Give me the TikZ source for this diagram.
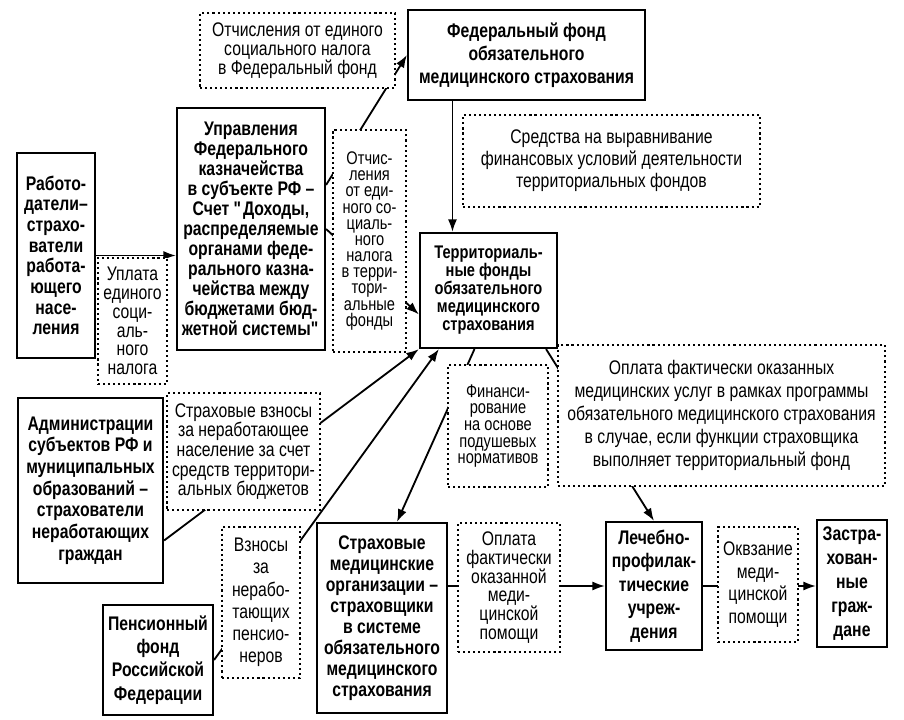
\documentclass[tikz,border=0pt]{standalone}
\usepackage{fontspec}
\setmainfont{Liberation Sans}[FakeStretch=0.8]
\usetikzlibrary{positioning,arrows.meta}

\tikzset{
  box/.style={draw, line width=1.5pt, align=center, inner sep=1pt,
              font=\bfseries\fontsize{14}{#1}\selectfont},
  box/.default=15pt,
  note/.style={draw, fill=white, line width=1.5pt, dash pattern=on 1.5pt off 2.1pt,
               align=center, inner sep=1pt, font=\fontsize{14}{#1}\selectfont},
  note/.default=14pt,
  flow/.style={line width=1.3pt, -{Latex[length=9pt,width=6.5pt]}}
}

\begin{document}
\begin{tikzpicture}[x=0.025cm, y=-0.025cm]
  \useasboundingbox (0,0) rectangle (904,720);

  % main boxes
  \node[box=16.5pt, minimum width=5.925cm, minimum height=2.25cm] (fed)   at (526.5,55)  {Федеральный фонд\\обязательного\\медицинского страхования};
  \node[box=14.7pt, minimum width=1.95cm,  minimum height=5.125cm] (emp)  at (56,255.5)  {Работо-\\датели–\\страхо-\\ватели\\работа-\\ющего\\насе-\\ления};
  \node[box=14.2pt, minimum width=3.7cm,   minimum height=6.05cm] (treas) at (251,229)   {Управления\\Федерального\\казначейства\\в субъекте РФ –\\Счет \textquotedbl{}Доходы,\\распределяемые\\органами феде-\\рального казна-\\чейства между\\бюджетами бюд-\\жетной системы\textquotedbl};
  \node[box, font=\bfseries\fontsize{13}{12.8pt}\selectfont, minimum width=3.425cm, minimum height=2.875cm] (terr) at (488.5,290.5) {Территориаль-\\ные фонды\\обязательного\\медицинского\\страхования};
  \node[box=15.4pt, minimum width=3.625cm, minimum height=4.625cm] (adm)  at (90.5,490.5) {Администрации\\субъектов РФ и\\муниципальных\\образований –\\страхователи\\неработающих\\граждан};
  \node[box=16.6pt, minimum width=2.75cm,  minimum height=2.75cm]  (pens) at (158,660)    {Пенсионный\\фонд\\Российской\\Федерации};
  \node[box=15pt,   minimum width=3.25cm,  minimum height=4.75cm]  (ins)  at (382,618)    {Страховые\\медицинские\\организации –\\страховщики\\в системе\\обязательного\\медицинского\\страхования};
  \node[box=16.8pt, minimum width=2.4cm,   minimum height=3.2cm]   (clin) at (654,586)    {Лечебно-\\профилак-\\тические\\учреж-\\дения};
  \node[box=17pt,   minimum width=1.75cm,  minimum height=3.175cm] (insd) at (852,583.5)  {Застра-\\хован-\\ные\\граж-\\дане};

  % money flows
  \draw[flow] (emp.east) -- (emp.east -| treas.west);
  \draw[flow] ([yshift=1.1cm]treas.east) -- (fed.west);
  \draw[flow] (treas.east) -- ([yshift=-0.6cm]terr.west);
  \draw[flow] ([xshift=-1.85cm]fed.south) -- ([xshift=-1.85cm]fed.south |- terr.north);
  \draw[flow] ([yshift=-1.25cm]adm.east) -- (terr.south west);
  \draw[flow] (pens.east) -- ([xshift=0.5cm]terr.south west);
  \draw[flow] ([xshift=-0.35cm]terr.south) -- ([xshift=0.375cm]ins.north);
  \draw[flow] ([xshift=-0.3cm]terr.south east) -- (clin.north);
  \draw[flow] (ins.east |- clin.west) -- (clin.west);
  \draw[flow] (clin.east) -- (clin.east -| insd.west);

  % dotted captions on the flows
  \node[note=13.5pt, minimum width=4.875cm, minimum height=1.875cm] (fednote)  at (297.5,50.5) {Отчисления от единого\\социального налога\\в Федеральный фонд};
  \node[note=15.6pt, minimum width=7.425cm, minimum height=2.3cm]   (eqnote)   at (611.5,161)  {Средства на выравнивание\\финансовых условий деятельности\\территориальных фондов};
  \node[note, font=\fontsize{13}{11.5pt}\selectfont, minimum width=1.825cm, minimum height=5.55cm] (regnote) at (369.5,241) {Отчис-\\ления\\от еди-\\ного со-\\циаль-\\ного\\налога\\в терри-\\тори-\\альные\\фонды};
  \node[note=13.3pt, minimum width=1.725cm, minimum height=3.15cm]  (taxnote)  at (132.5,321)  {Уплата\\единого\\соци-\\аль-\\ного\\налога};
  \node[note=16.4pt, minimum width=8.175cm, minimum height=3.525cm] (paynote)  at (721.5,415.5) {Оплата фактически оказанных\\медицинских услуг в рамках программы\\обязательного медицинского страхования\\в случае, если функции страховщика\\выполняет территориальный фонд};
  \node[note, font=\fontsize{13}{11.8pt}\selectfont, minimum width=2.5cm, minimum height=3.05cm] (finnote) at (498,426) {Финанси-\\рование\\на основе\\подушевых\\нормативов};
  \node[note=14pt,   minimum width=3.825cm, minimum height=2.925cm] (budnote)  at (243.5,451.5) {Страховые взносы\\за неработающее\\население за счет\\средств территори-\\альных бюджетов};
  \node[note=15.8pt, minimum width=1.95cm,  minimum height=3.775cm] (pensnote) at (261,602.5)  {Взносы\\за\\нерабо-\\тающих\\пенсио-\\неров};
  \node[note=13.3pt, minimum width=2.55cm,  minimum height=3.225cm] (paidnote) at (509,587.5)  {Оплата\\фактически\\оказанной\\меди-\\цинской\\помощи};
  \node[note=16pt,   minimum width=2.0cm,   minimum height=2.875cm] (carenote) at (758,584.5)  {Оквзание\\меди-\\цинской\\помощи};
\end{tikzpicture}
\end{document}
